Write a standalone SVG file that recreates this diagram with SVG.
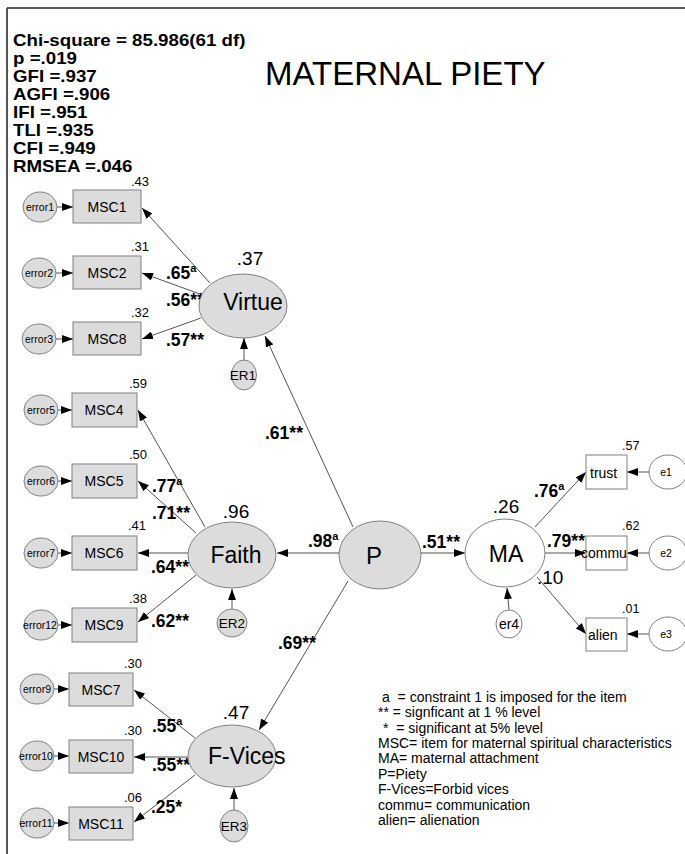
<svg xmlns="http://www.w3.org/2000/svg" width="685" height="854" viewBox="0 0 685 854">
<defs>
<marker id="ah" markerUnits="userSpaceOnUse" markerWidth="11" markerHeight="8" refX="11" refY="4" orient="auto"><path d="M0,0 L11,4 L0,8 z" fill="#000"/></marker>
<style>
text{font-family:"Liberation Sans",Arial,sans-serif;fill:#000}
.st{font-size:16px;font-weight:bold}
.title{font-size:33px}
.gn{fill:#dcdcdc;stroke:#808080;stroke-width:1}
.wn{fill:#fff;stroke:#808080;stroke-width:1}
.err{font-size:10.5px;text-anchor:middle}
.msc{font-size:14px;text-anchor:middle}
.r2{font-size:13px}
.lat{font-size:23px;text-anchor:middle}
.lr2{font-size:19px;text-anchor:middle}
.er{font-size:13.5px;text-anchor:middle}
.ld{font-size:17.5px;font-weight:bold}
.sup{font-size:11px;font-weight:bold}
.obs{font-size:14px}
.leg{font-size:14px;white-space:pre}
#conn line{stroke:#404040;stroke-width:0.9;marker-end:url(#ah)}
</style>
</defs>
<g id="frame"><line x1="7" y1="8" x2="685" y2="8" stroke="#555" stroke-width="2"/><line x1="7" y1="8" x2="7" y2="854" stroke="#555" stroke-width="2"/></g>
<g id="stats" transform="translate(13,0) scale(1.17,1)">
<text class="st" x="0" y="46">Chi-square = 85.986(61 df)</text>
<text class="st" x="0" y="64">p =.019</text>
<text class="st" x="0" y="82">GFI =.937</text>
<text class="st" x="0" y="100">AGFI =.906</text>
<text class="st" x="0" y="118">IFI =.951</text>
<text class="st" x="0" y="136">TLI =.935</text>
<text class="st" x="0" y="154">CFI =.949</text>
<text class="st" x="0" y="172">RMSEA =.046</text>
</g>
<text id="title" class="title" x="265" y="85">MATERNAL PIETY</text>
<g id="conn">
<line x1="57" y1="207" x2="73" y2="207"/>
<line x1="56" y1="273" x2="73" y2="273"/>
<line x1="56" y1="339" x2="73" y2="339"/>
<line x1="210" y1="283" x2="142" y2="208"/>
<line x1="200" y1="294" x2="142" y2="273"/>
<line x1="201" y1="318" x2="142" y2="339"/>
<line x1="244" y1="360" x2="244" y2="338"/>
<line x1="353" y1="527" x2="265" y2="336"/>
<line x1="58" y1="410" x2="72" y2="410"/>
<line x1="58" y1="481" x2="72" y2="481"/>
<line x1="58" y1="553" x2="72" y2="553"/>
<line x1="58" y1="625" x2="72" y2="625"/>
<line x1="205" y1="527" x2="138" y2="410"/>
<line x1="196" y1="533" x2="138" y2="481"/>
<line x1="188" y1="553" x2="138" y2="553"/>
<line x1="196" y1="575" x2="138" y2="622"/>
<line x1="232" y1="609" x2="232" y2="589"/>
<line x1="339" y1="553" x2="277" y2="553"/>
<line x1="348" y1="581" x2="259" y2="730"/>
<line x1="54" y1="689" x2="69" y2="689"/>
<line x1="54" y1="756" x2="69" y2="756"/>
<line x1="54" y1="823" x2="69" y2="823"/>
<line x1="195" y1="738" x2="134" y2="690"/>
<line x1="188" y1="757" x2="134" y2="757"/>
<line x1="195" y1="775" x2="134" y2="822"/>
<line x1="234" y1="810" x2="234" y2="788"/>
<line x1="421" y1="553" x2="465" y2="553"/>
<line x1="509" y1="610" x2="507" y2="588"/>
<line x1="535" y1="527" x2="586" y2="472"/>
<line x1="545" y1="553" x2="586" y2="553"/>
<line x1="537" y1="577" x2="586" y2="634"/>
<line x1="649" y1="472" x2="627" y2="472"/>
<line x1="649" y1="553" x2="627" y2="553"/>
<line x1="649" y1="634" x2="627" y2="634"/>
</g>
<g id="labels">
<text class="ld" x="166" y="279">.65<tspan class="sup" dy="-7">a</tspan></text>
<text class="ld" x="166" y="306">.56**</text>
<text class="ld" x="166" y="346">.57**</text>
<text class="ld" x="265" y="439">.61**</text>
<text class="ld" x="152" y="492">.77<tspan class="sup" dy="-7">a</tspan></text>
<text class="ld" x="152" y="519">.71**</text>
<text class="ld" x="151" y="573">.64**</text>
<text class="ld" x="151" y="627">.62**</text>
<text class="ld" x="308" y="547">.98<tspan class="sup" dy="-7">a</tspan></text>
<text class="ld" x="422" y="548">.51**</text>
<text class="ld" x="278" y="649">.69**</text>
<text class="ld" x="152" y="732">.55<tspan class="sup" dy="-7">a</tspan></text>
<text class="ld" x="152" y="771">.55**</text>
<text class="ld" x="151" y="813">.25*</text>
<text class="ld" x="534" y="497">.76<tspan class="sup" dy="-7">a</tspan></text>
<text class="ld" x="547" y="547">.79**</text>
<text x="537" y="584" style="font-size:19px">.10</text>
</g>
<g id="error1"><ellipse class="gn" cx="40" cy="207" rx="17" ry="15"/><text class="err" x="40" y="211">error1</text></g>
<g id="MSC1"><rect class="gn" x="73" y="190" width="68" height="33"/><text class="msc" x="107" y="212">MSC1</text><text class="r2" x="131" y="186">.43</text></g>
<g id="error2"><ellipse class="gn" cx="39" cy="273" rx="17" ry="15"/><text class="err" x="39" y="277">error2</text></g>
<g id="MSC2"><rect class="gn" x="73" y="256" width="68" height="33"/><text class="msc" x="107" y="278">MSC2</text><text class="r2" x="131" y="251">.31</text></g>
<g id="error3"><ellipse class="gn" cx="39" cy="339" rx="17" ry="15"/><text class="err" x="39" y="343">error3</text></g>
<g id="MSC8"><rect class="gn" x="73" y="322" width="68" height="33"/><text class="msc" x="107" y="344">MSC8</text><text class="r2" x="131" y="317">.32</text></g>
<g id="Virtue"><ellipse class="gn" cx="243" cy="306" rx="44" ry="32"/><text class="lat" x="253" y="310">Virtue</text><text class="lr2" x="250" y="265">.37</text></g>
<g id="ER1"><ellipse class="gn" cx="244" cy="375" rx="12.5" ry="15"/><text class="er" x="243" y="380">ER1</text></g>
<g id="error5"><ellipse class="gn" cx="41" cy="410" rx="17" ry="15"/><text class="err" x="41" y="414">error5</text></g>
<g id="MSC4"><rect class="gn" x="72" y="393" width="65" height="34"/><text class="msc" x="104" y="415">MSC4</text><text class="r2" x="129" y="388">.59</text></g>
<g id="error6"><ellipse class="gn" cx="41" cy="481" rx="17" ry="15"/><text class="err" x="41" y="485">error6</text></g>
<g id="MSC5"><rect class="gn" x="72" y="464" width="65" height="34"/><text class="msc" x="104" y="486">MSC5</text><text class="r2" x="129" y="459">.50</text></g>
<g id="error7"><ellipse class="gn" cx="41" cy="553" rx="17" ry="15"/><text class="err" x="41" y="557">error7</text></g>
<g id="MSC6"><rect class="gn" x="72" y="536" width="65" height="34"/><text class="msc" x="104" y="558">MSC6</text><text class="r2" x="128" y="530">.41</text></g>
<g id="error12"><ellipse class="gn" cx="41" cy="625" rx="17" ry="15"/><text class="err" x="40" y="629">error12</text></g>
<g id="MSC9"><rect class="gn" x="72" y="608" width="65" height="34"/><text class="msc" x="104" y="630">MSC9</text><text class="r2" x="129" y="603">.38</text></g>
<g id="Faith"><ellipse class="gn" cx="232" cy="555" rx="44" ry="33"/><text class="lat" x="236" y="563">Faith</text><text class="lr2" x="236" y="518">.96</text></g>
<g id="ER2"><ellipse class="gn" cx="232" cy="623" rx="15" ry="14"/><text class="er" x="232" y="628">ER2</text></g>
<g id="error9"><ellipse class="gn" cx="37" cy="689" rx="17" ry="15"/><text class="err" x="37" y="693">error9</text></g>
<g id="MSC7"><rect class="gn" x="69" y="673" width="64" height="33"/><text class="msc" x="101" y="695">MSC7</text><text class="r2" x="124" y="668">.30</text></g>
<g id="error10"><ellipse class="gn" cx="37" cy="756" rx="17" ry="15"/><text class="err" x="36" y="760">error10</text></g>
<g id="MSC10"><rect class="gn" x="69" y="740" width="64" height="33"/><text class="msc" x="101" y="762">MSC10</text><text class="r2" x="124" y="735">.30</text></g>
<g id="error11"><ellipse class="gn" cx="37" cy="823" rx="17" ry="15"/><text class="err" x="36" y="827">error11</text></g>
<g id="MSC11"><rect class="gn" x="69" y="807" width="64" height="33"/><text class="msc" x="101" y="829">MSC11</text><text class="r2" x="124" y="802">.06</text></g>
<g id="FVices"><ellipse class="gn" cx="232" cy="756" rx="44" ry="31"/><text x="208" y="764" style="font-size:23px">F-Vices</text><text class="lr2" x="236" y="719">.47</text></g>
<g id="ER3"><ellipse class="gn" cx="234" cy="826" rx="14" ry="16"/><text class="er" x="234" y="831">ER3</text></g>
<g id="P"><ellipse class="gn" cx="380" cy="555" rx="41" ry="34"/><text x="374" y="564" style="font-size:24px;text-anchor:middle">P</text></g>
<g id="MA"><ellipse class="wn" cx="505" cy="553" rx="40" ry="34"/><text class="lat" x="506" y="562">MA</text><text class="lr2" x="506" y="513">.26</text></g>
<g id="er4"><ellipse class="wn" cx="509" cy="624" rx="13" ry="14"/><text x="509" y="629" style="font-size:14px;text-anchor:middle">er4</text></g>
<g id="trust"><rect class="wn" x="586" y="455" width="41" height="34"/><text class="obs" x="590" y="478">trust</text><text x="622" y="450" style="font-size:12.5px">.57</text></g>
<g id="commu"><rect class="wn" x="586" y="536" width="41" height="34"/><text class="obs" x="581" y="558">commu</text><text x="622" y="530" style="font-size:12.5px">.62</text></g>
<g id="alien"><rect class="wn" x="586" y="618" width="41" height="33"/><text class="obs" x="588" y="640">alien</text><text x="622" y="613" style="font-size:12.5px">.01</text></g>
<g id="e1"><ellipse class="wn" cx="668" cy="472" rx="19" ry="17"/><text class="err" x="666" y="476">e1</text></g>
<g id="e2"><ellipse class="wn" cx="668" cy="553" rx="19" ry="17"/><text class="err" x="666" y="557">e2</text></g>
<g id="e3"><ellipse class="wn" cx="668" cy="634" rx="19" ry="17"/><text class="err" x="666" y="638">e3</text></g>
<g id="legend">
<text class="leg" x="382" y="702">a  = constraint 1 is imposed for the item</text>
<text class="leg" x="378" y="717">** = signficant at 1 % level</text>
<text class="leg" x="383" y="733">*  = significant at 5% level</text>
<text class="leg" x="378" y="748">MSC= item for maternal spiritual characteristics</text>
<text class="leg" x="378" y="763">MA= maternal attachment</text>
<text class="leg" x="378" y="779">P=Piety</text>
<text class="leg" x="378" y="794">F-Vices=Forbid vices</text>
<text class="leg" x="378" y="810">commu= communication</text>
<text class="leg" x="378" y="825">alien= alienation</text>
</g>
</svg>
